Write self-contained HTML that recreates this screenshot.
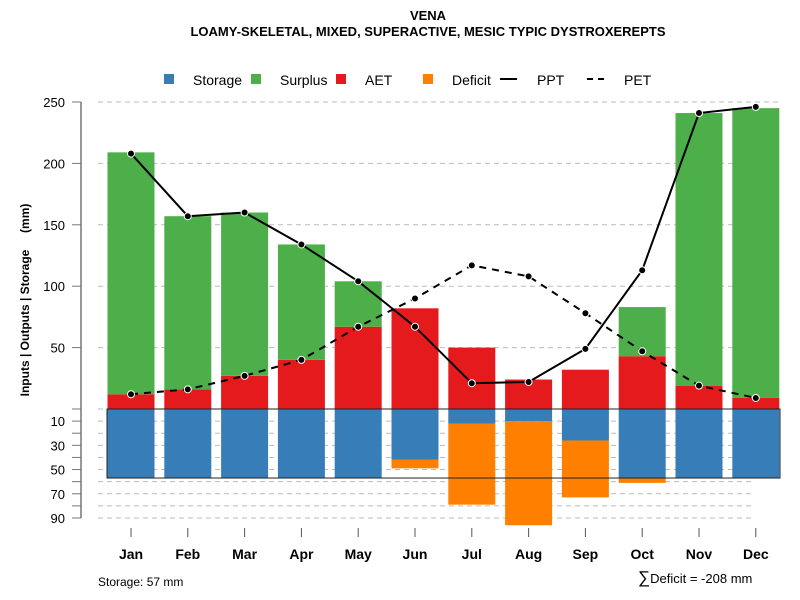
<!DOCTYPE html>
<html><head><meta charset="utf-8"><style>
body{margin:0;background:#fff}
svg{display:block;font-family:"Liberation Sans",Arial,sans-serif}
</style></head><body>
<svg id="chart" width="800" height="600">
<text x="428" y="20" text-anchor="middle" font-size="13" font-weight="bold">VENA</text>
<text x="428" y="36" text-anchor="middle" font-size="13" font-weight="bold">LOAMY-SKELETAL, MIXED, SUPERACTIVE, MESIC TYPIC DYSTROXEREPTS</text>
<g id="legend" font-size="14">
<rect x="164" y="74" width="10" height="10" fill="#377eb8"/>
<text x="193" y="85">Storage</text>
<rect x="251" y="74" width="10" height="10" fill="#4daf4a"/>
<text x="280" y="85">Surplus</text>
<rect x="336" y="74" width="10" height="10" fill="#e41a1c"/>
<text x="365" y="85">AET</text>
<rect x="423" y="74" width="10" height="10" fill="#ff7f00"/>
<text x="452" y="85">Deficit</text>
<line x1="500" y1="79" x2="517" y2="79" stroke="#000" stroke-width="2"/>
<text x="537" y="85">PPT</text>
<line x1="587" y1="79" x2="608" y2="79" stroke="#000" stroke-width="2" stroke-dasharray="6,5"/>
<text x="624" y="85">PET</text>
</g>
<text transform="translate(29,300) rotate(-90)" text-anchor="middle" font-size="12" font-weight="bold" xml:space="preserve">Inputs | Outputs | Storage     (mm)</text>
<text x="98" y="586" font-size="12">Storage: 57 mm</text>
<text x="638" y="583" font-size="13"><tspan font-size="17">∑</tspan>Deficit = -208 mm</text>
</svg>
<script>
const months=["Jan","Feb","Mar","Apr","May","Jun","Jul","Aug","Sep","Oct","Nov","Dec"];
const aet=[12,16,27,40,67,82,50,24,32,43,19,9];
const surplus=[197,141,133,94,37,0,0,0,0,40,222,236];
const ppt=[208,157,160,134,104,67,21,22,49,113,241,246];
const pet=[12,16,27,40,67,90,117,108,78,47,19,9];
const storage=[57,57,57,57,57,42,12,10,26,57,57,57];
const deficit=[0,0,0,0,0,7,67,86,47,4,0,0];
const upperTicks=[50,100,150,200,250];
const lowerTicks=[10,30,50,70,90];
const svg=document.getElementById('chart');
const NS='http://www.w3.org/2000/svg';
const y0=409;
const yU=v=>y0-v*1.228;
const yL=v=>y0+v*1.211;
const xC=i=>131+i*56.8;
const bw=47;
function mk(t,a){const e=document.createElementNS(NS,t);for(const k in a)e.setAttribute(k,a[k]);svg.appendChild(e);return e;}
for(let v=0;v<=250;v+=50){const g=mk('line',{x1:98,x2:780,y1:yU(v),y2:yU(v),stroke:'#bbb','stroke-dasharray':'5,4'});

}
for(let v=10;v<=90;v+=10){const g=mk('line',{x1:98,x2:755,y1:yL(v),y2:yL(v),stroke:'#bbb','stroke-dasharray':'5,4'});

}
let ax=mk('line',{x1:81,x2:81,y1:yU(250),y2:yL(90),stroke:'#777','stroke-width':1.5});


upperTicks.forEach(v=>{mk('line',{x1:72,x2:81,y1:yU(v),y2:yU(v),stroke:'#777'});
const t=mk('text',{x:65,y:yU(v)+5,'text-anchor':'end','font-size':13});t.textContent=v;

});
for(let v=0;v<=90;v+=10){mk('line',{x1:72,x2:81,y1:yL(v),y2:yL(v),stroke:'#777'});}
lowerTicks.forEach(v=>{const t=mk('text',{x:65,y:yL(v)+5,'text-anchor':'end','font-size':13});t.textContent=v;

});
months.forEach((m,i)=>{
const x=xC(i)-bw/2;
let r=mk('rect',{x:x,y:yU(aet[i]),width:bw,height:aet[i]*1.228,fill:'#e41a1c'});


if(surplus[i]>0){r=mk('rect',{x:x,y:yU(aet[i]+surplus[i]),width:bw,height:surplus[i]*1.228,fill:'#4daf4a'});

}
r=mk('rect',{x:x,y:y0,width:bw,height:storage[i]*1.211,fill:'#377eb8'});


if(deficit[i]>0){r=mk('rect',{x:x,y:yL(storage[i]),width:bw,height:deficit[i]*1.211,fill:'#ff7f00'});

}
mk('line',{x1:xC(i),x2:xC(i),y1:528,y2:537,stroke:'#555'});
const t=mk('text',{x:xC(i),y:559,'text-anchor':'middle','font-size':14,'font-weight':'bold'});t.textContent=m;


});
const box=mk('rect',{x:107,y:y0,width:673,height:Math.max(...storage)*1.211,fill:'none',stroke:'#222','stroke-width':1});


function series(arr,dash,name){
const p=mk('polyline',{points:arr.map((v,i)=>xC(i)+','+yU(v)).join(' '),fill:'none',stroke:'#000','stroke-width':2,'stroke-dasharray':dash});


arr.forEach((v,i)=>{const c=mk('circle',{cx:xC(i),cy:yU(v),r:3.5,fill:'#000',stroke:'#fff','stroke-width':1});

});
}
series(pet,'7,6','pet');
series(ppt,'none','ppt');
</script>
</body></html>
